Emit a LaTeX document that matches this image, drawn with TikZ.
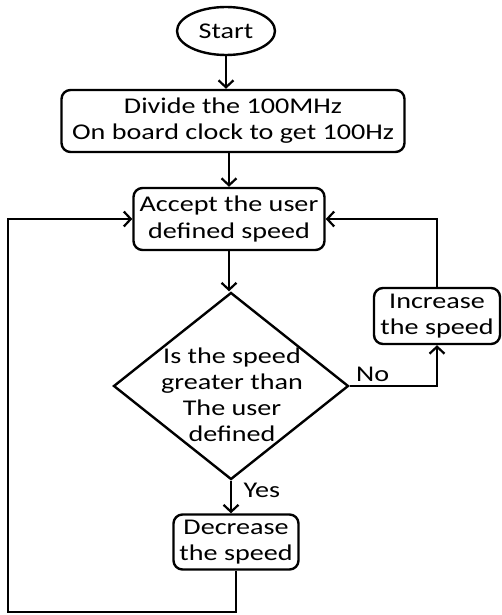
\documentclass[tikz,border=0pt]{standalone}
\usepackage{fontspec}
\setmainfont{Carlito}[FakeStretch=1.25]
\usetikzlibrary{shapes.geometric,arrows.meta}

\tikzset{
  every node/.style={font=\fontsize{22.5}{26}\selectfont},
  flowline/.style={line width=2.4pt},
  arr/.style={flowline,-{Straight Barb[length=7pt,width=15pt,line width=2.2pt]}},
  terminal/.style={draw,line width=2.4pt,ellipse,minimum width=98pt,minimum height=48pt,inner sep=0pt},
  process/.style={draw,line width=2.4pt,rounded corners=9pt,align=center,inner sep=0pt},
  decision/.style={draw,line width=2.4pt,diamond,minimum width=235pt,minimum height=187pt,inner sep=0pt}
}

\begin{document}
\begin{tikzpicture}[x=1pt,y=-1pt]
    \useasboundingbox (0,0) rectangle (502,615);

    \node[terminal] (start) at (226,31) {Start};
    \node[process,minimum width=343pt,minimum height=62pt] (divide) at (233,121)
        {Divide the 100MHz\\On board clock to get 100Hz};
    \node[process,minimum width=191pt,minimum height=62pt] (accept) at (229,219)
        {Accept the user\\defined speed};
    \node[decision] (decide) at (231,386) {};
    \node[align=center,inner sep=0pt] (decidetxt) at (232,395)
        {Is the speed\\greater than\\The user\\defined};
    \node[process,minimum width=126pt,minimum height=56pt] (increase) at (437,316)
        {Increase\\the speed};
    \node[process,minimum width=125pt,minimum height=55pt] (decrease) at (236,542)
        {Decrease\\the speed};

    \coordinate (loopbr) at (236,612);
    \coordinate (loopbl) at (8,612);

    \draw[arr] (start) -- (start |- divide.north);
    \draw[arr] (divide.south -| accept) -- (accept);
    \draw[arr] (accept) -- (accept |- decide.north);
    \draw[arr] (decide.south) -- node[right,pos=0.3,xshift=8pt] (yes) {Yes} (decide.south |- decrease.north);
    \draw[arr] (decide.east) node[above right,xshift=2pt] (no) {No} -| (increase.south);
    \draw[arr] (increase.north) |- (accept.east);
    \draw[arr] (decrease.south) -- (loopbr) -- (loopbl) |- (accept.west);
\end{tikzpicture}
\end{document}
